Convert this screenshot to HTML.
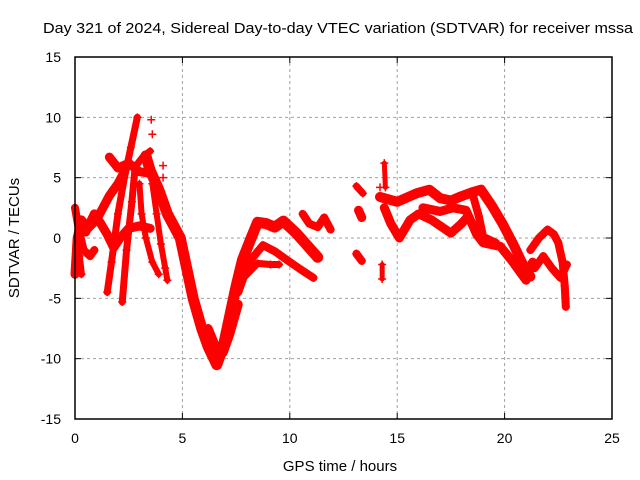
<!DOCTYPE html>
<html><head><meta charset="utf-8"><style>
body{margin:0;background:#fff}
svg{display:block;font-family:"Liberation Sans",sans-serif}
</style></head><body>
<svg id="chart" width="640" height="480">
<text x="338" y="33" text-anchor="middle" font-size="15" textLength="590" lengthAdjust="spacingAndGlyphs">Day 321 of 2024, Sidereal Day-to-day VTEC variation (SDTVAR) for receiver mssa</text>
<g id="grid"></g>
<g id="ticks"></g>
<g id="marks"></g>
<rect x="75" y="57" width="537" height="362" fill="none" stroke="#000" stroke-width="1.5"/>
<text x="340" y="471" text-anchor="middle" font-size="15">GPS time / hours</text>
<text transform="translate(19,238) rotate(-90)" text-anchor="middle" font-size="15">SDTVAR / TECUs</text>
</svg>
<script>
const xTicks=[0,5,10,15,20,25];
const yTicks=[-15,-10,-5,0,5,10,15];
const trackMainV=[[3.3,6.8],[3.5,5.6],[3.9,4],[4.3,2],[4.9,0],[5.2,-2.5],[5.5,-5],[5.9,-7.5],[6.2,-9],[6.6,-10.5],[6.9,-9],[7.2,-6.5],[7.5,-4],[7.8,-1.8],[8.2,0],[8.5,1.3],[8.9,1.2],[9.3,0.9],[9.7,1.4],[10.3,0.4],[10.8,-0.6],[11.3,-1.6]];
const trackBranch2=[[7.6,-4.5],[8.1,-2],[8.75,-0.6],[9.3,-1.1],[9.85,-1.8],[10.5,-2.6],[11.1,-3.3]];
const trackBranch3=[[7.9,-3.2],[8.5,-2.1],[9.1,-2.2],[9.5,-2.2]];
const trackLow=[[6.2,-7.5],[6.5,-8.8],[6.9,-9.5],[7.2,-8],[7.6,-5.5]];
const trackCluster11=[[10.6,2],[10.9,1.2],[11.3,0.9],[11.6,1.7],[11.9,0.7]];
const trackRiseB=[[1.5,-4.5],[1.7,-2],[2,2],[2.3,5],[2.6,7.5],[2.9,10]];
const trackRiseC=[[2.2,-5.3],[2.4,-1],[2.65,3],[2.8,5.9],[3.2,6.8],[3.5,7.2]];
const trackCross=[[1.6,6.7],[2,5.8],[2.5,6.2],[3,5.5],[3.35,5.4]];
const trackDrop=[[3.6,4.5],[3.8,2],[4,-0.5],[4.2,-2.5],[4.3,-3.5]];
const trackDrop2=[[3,4.5],[3.1,2],[3.3,0],[3.6,-2],[3.9,-3]];
const trackLeftA=[[0,-3],[0.1,0],[0.3,1.5],[0.6,0.8],[1,1.5],[1.3,2.5],[1.6,3.5],[2,4.5],[2.3,5.5]];
const trackLeftB=[[0,2.5],[0.2,0.5],[0.4,-1],[0.7,-1.5],[0.9,-1]];
const trackLeftC=[[0.5,0.5],[0.9,2],[1.2,1.2],[1.5,0.3],[1.8,-0.8],[2.1,0],[2.5,0.8],[3,1],[3.5,0.8]];
const trackLeftD=[[0,-2.8],[0.2,-1.5],[0.3,-3]];
const trackGap1=[[13.1,4.3],[13.4,3.7]];
const trackGap2=[[13.2,2.3],[13.35,1.7]];
const trackGap3=[[13.1,-1.3],[13.35,-1.9]];
const trackGap4=[[14.4,6.2],[14.45,4.2]];
const trackGap5=[[14.3,-2.2],[14.3,-3.4]];
const trackRightTop=[[14.2,3.4],[15,3],[15.9,3.7],[16.5,4],[17,3.3],[17.5,3.1],[17.9,3.4],[18.5,3.8],[18.9,4],[19.4,2.7],[19.9,1.2],[20.4,-0.5],[20.8,-2],[21.2,-3.2]];
const trackRightLow=[[14.4,2.5],[14.7,1.2],[15.1,0],[15.6,1.5],[16,2],[16.6,1.5],[17.5,0.4],[18,1.2],[18.3,1.8]];
const trackRightMid=[[16.2,2.5],[17,2.2],[17.6,2.5],[18.2,2.3],[18.7,0.3],[19,-0.4],[19.8,-0.7],[20.3,-1.8],[21,-3.5],[21.3,-2]];
const trackRightCross=[[18.5,3.7],[18.8,1.8],[19,0.1],[19.6,-0.4]];
const trackRightEnd=[[21.2,-1],[21.6,0],[22,0.7],[22.3,0.3],[22.5,-0.4],[22.7,-2],[22.8,-4],[22.85,-5.7]];
const trackRightEnd2=[[21.4,-2.5],[21.8,-1.5],[22.2,-2.5],[22.6,-3.3],[22.9,-2.2]];
const stray=[[3.55,9.8],[3.6,8.6],[4.1,6],[4.1,5],[14.2,4.2]];

const X=h=>75+h*537/25, Y=v=>238-v*362/30;
const NS="http://www.w3.org/2000/svg";
const grid=document.getElementById('grid'),ticks=document.getElementById('ticks'),marks=document.getElementById('marks');
function mk(t,a,p){const e=document.createElementNS(NS,t);for(const k in a)e.setAttribute(k,a[k]);p.appendChild(e);return e;}
xTicks.forEach(t=>{const x=X(t);
 if(t>0&&t<25){const g=mk('line',{x1:x,y1:57,x2:x,y2:419,stroke:'#a0a0a0','stroke-dasharray':'3,3'},grid);
 
 }
 mk('line',{x1:x,y1:419,x2:x,y2:413,stroke:'#000'},ticks);mk('line',{x1:x,y1:57,x2:x,y2:63,stroke:'#000'},ticks);
 const l=mk('text',{x:x,y:443,'text-anchor':'middle','font-size':14},ticks);l.textContent=t;
 
 });
yTicks.forEach(t=>{const y=Y(t);
 if(t>-15&&t<15){const g=mk('line',{x1:75,y1:y,x2:612,y2:y,stroke:'#a0a0a0','stroke-dasharray':'3,3'},grid);
 
 }
 mk('line',{x1:75,y1:y,x2:81,y2:y,stroke:'#000'},ticks);mk('line',{x1:612,y1:y,x2:606,y2:y,stroke:'#000'},ticks);
 const l=mk('text',{x:61,y:y+5,'text-anchor':'end','font-size':14},ticks);l.textContent=t;
 
 });
const tracks=[[trackMainV,11],[trackBranch2,8],[trackBranch3,7],[trackLow,9],[trackCluster11,8],[trackRiseB,7],[trackRiseC,7],[trackCross,9],[trackDrop,6],[trackDrop2,6],[trackLeftA,9],[trackLeftB,8],[trackLeftC,9],[trackLeftD,7],[trackGap1,7],[trackGap2,9],[trackGap3,8],[trackGap4,5],[trackGap5,5],[trackRightTop,10],[trackRightLow,9],[trackRightMid,9],[trackRightCross,8],[trackRightEnd,8],[trackRightEnd2,8]];
tracks.forEach(([d,w])=>{
 const p=mk('polyline',{points:d.map(q=>X(q[0])+','+Y(q[1])).join(' '),fill:'none',stroke:'#f00','stroke-width':w,'stroke-linejoin':'round','stroke-linecap':'round'},marks);
 
 
 d.forEach(q=>plus(q));});
stray.forEach(q=>plus(q));
function plus(q){const x=X(q[0]),y=Y(q[1]);
 const m=mk('path',{d:`M${x-4},${y}H${x+4}M${x},${y-4}V${y+4}`,stroke:'#f00','stroke-width':1.5},marks);
 
 }
</script>
</body></html>
